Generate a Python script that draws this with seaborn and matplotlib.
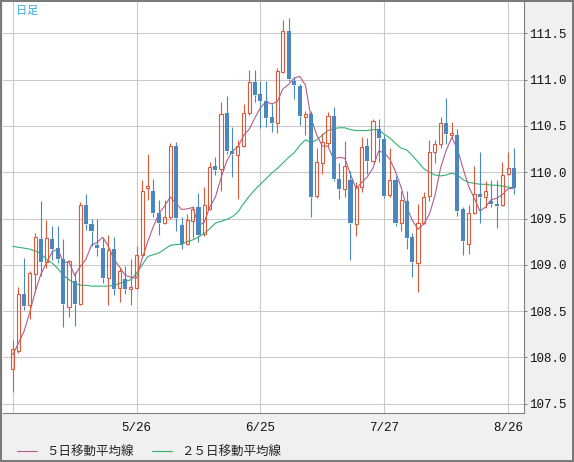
import numpy as np
import pandas as pd
import matplotlib
matplotlib.use("Agg")
import matplotlib.pyplot as plt
import seaborn as sns
from matplotlib.lines import Line2D
from matplotlib.patches import Rectangle

# ---- data (daily candles) ----
open_ = [107.88, 108.07, 108.68, 108.57, 108.90, 109.28, 109.03, 109.28, 109.18, 109.06,
         108.55, 108.83, 108.58, 109.65, 109.44, 109.21, 109.18, 108.86, 109.17, 108.75,
         108.85, 108.74, 108.75, 109.11, 109.83, 109.80, 109.56, 109.45, 109.52, 110.28,
         109.43, 109.23, 109.47, 109.62, 109.33, 109.60, 110.07, 110.04, 110.64, 110.23,
         110.19, 110.28, 110.64, 110.97, 110.84, 110.77, 110.60, 110.53, 111.08, 111.52,
         110.99, 110.93, 110.60, 110.63, 109.74, 110.10, 110.32, 110.61, 109.93, 109.82,
         109.92, 109.44, 109.84, 110.28, 110.12, 110.47, 110.36, 109.75, 109.92, 109.45,
         109.69, 109.30, 109.02, 109.45, 109.74, 110.22, 110.31, 110.53, 110.40, 110.40,
         109.60, 109.23, 109.56, 109.77, 109.73, 109.69, 109.66, 109.65, 109.98, 110.05]
high = [108.19, 108.76, 109.07, 108.93, 109.34, 109.69, 109.48, 109.42, 109.42, 109.28,
        109.05, 108.92, 109.68, 109.77, 109.50, 109.49, 109.29, 109.32, 109.30, 108.98,
        108.99, 109.06, 109.20, 109.92, 110.20, 109.93, 109.70, 109.70, 110.32, 110.33,
        109.52, 109.55, 109.63, 109.78, 109.84, 110.11, 110.16, 110.76, 110.82, 110.49,
        110.35, 110.74, 111.10, 111.10, 110.99, 110.99, 110.74, 111.13, 111.64, 111.67,
        111.03, 110.95, 110.66, 110.66, 110.26, 110.42, 110.65, 110.70, 110.10, 110.34,
        110.01, 109.89, 110.38, 110.37, 110.58, 110.58, 110.40, 110.26, 109.96, 109.80,
        109.80, 109.34, 109.66, 109.79, 110.35, 110.35, 110.60, 110.80, 110.54, 110.47,
        109.62, 109.65, 110.07, 110.22, 109.90, 109.92, 109.92, 110.11, 110.22, 110.26]
low = [107.63, 108.05, 108.51, 108.42, 108.71, 108.88, 108.97, 109.05, 109.02, 108.33,
       108.44, 108.34, 108.57, 109.38, 109.20, 109.10, 108.80, 108.57, 108.67, 108.60,
       108.68, 108.57, 108.74, 109.10, 109.70, 109.52, 109.32, 109.44, 109.50, 109.36,
       109.17, 109.21, 109.29, 109.25, 109.31, 109.59, 109.97, 109.80, 110.20, 109.95,
       109.71, 110.27, 110.62, 110.76, 110.48, 110.49, 110.43, 110.42, 111.07, 110.98,
       110.79, 110.51, 110.40, 109.52, 109.72, 109.98, 110.28, 109.90, 109.71, 109.73,
       109.05, 109.31, 109.79, 109.98, 110.11, 110.11, 109.72, 109.73, 109.42, 109.36,
       109.17, 108.87, 108.71, 109.44, 109.69, 110.10, 110.26, 110.30, 110.37, 109.53,
       109.11, 109.12, 109.55, 109.45, 109.61, 109.62, 109.40, 109.64, 109.97, 109.76]
close = [108.09, 108.69, 108.56, 108.91, 109.30, 109.03, 109.29, 109.17, 109.06, 108.58,
         109.04, 108.58, 109.65, 109.44, 109.36, 109.18, 108.86, 109.16, 108.74, 108.93,
         108.74, 108.76, 109.11, 109.80, 109.85, 109.56, 109.45, 109.52, 110.28, 109.51,
         109.23, 109.48, 109.60, 109.32, 109.65, 110.06, 110.02, 110.63, 110.23, 110.20,
         110.28, 110.64, 110.97, 110.83, 110.77, 110.59, 110.53, 111.09, 111.52, 111.01,
         110.94, 110.61, 110.63, 109.73, 110.11, 110.33, 110.61, 109.93, 109.82, 110.07,
         109.45, 109.84, 110.27, 110.12, 110.55, 110.37, 109.74, 109.92, 109.45, 109.70,
         109.29, 109.03, 109.45, 109.73, 110.22, 110.30, 110.53, 110.41, 110.42, 109.58,
         109.26, 109.56, 109.77, 109.73, 109.80, 109.66, 109.63, 109.97, 110.05, 109.83]
ma25 = [109.20, 109.19, 109.18, 109.17, 109.15, 109.12, 109.06, 109.02, 108.96, 108.89,
        108.84, 108.80, 108.78, 108.78, 108.77, 108.77, 108.77, 108.77, 108.78, 108.80,
        108.82, 108.84, 108.91, 109.00, 109.09, 109.11, 109.13, 109.17, 109.21, 109.22,
        109.22, 109.25, 109.27, 109.30, 109.34, 109.39, 109.45, 109.47, 109.49, 109.52,
        109.57, 109.66, 109.74, 109.81, 109.87, 109.93, 109.99, 110.04, 110.10, 110.16,
        110.21, 110.29, 110.35, 110.32, 110.35, 110.40, 110.45, 110.47, 110.48, 110.48,
        110.46, 110.45, 110.45, 110.45, 110.46, 110.46, 110.41, 110.37, 110.31, 110.26,
        110.24, 110.18, 110.11, 110.04, 110.00, 109.97, 109.96, 109.97, 109.99, 109.97,
        109.92, 109.89, 109.88, 109.87, 109.87, 109.86, 109.86, 109.85, 109.84, 109.83]
ma5_head = [108.03, 108.15, 108.28, 108.48]
date_ticks = [0, 22, 44, 66, 88]
date_labels = ["", "5/26", "6/25", "7/27", "8/26"]
price_ticks = [107.5, 108.0, 108.5, 109.0, 109.5, 110.0, 110.5, 111.0, 111.5]
legend_labels = ["５日移動平均線", "２５日移動平均線"]
title_text = "日足"

sns.set_theme(style="white")
plt.rcParams['font.family'] = ['Noto Sans CJK JP', 'DejaVu Sans']

df = pd.DataFrame({"i": np.arange(len(close)), "open": open_, "high": high,
                   "low": low, "close": close, "ma25": ma25})
df["ma5"] = df["close"].rolling(5).mean()
df.loc[:3, "ma5"] = ma5_head

RED = "#dc5a3c"
BLUE = "#4a87bf"
PINK = "#b45c8e"
GREEN = "#2fb46e"

W, H = 574, 462
fig = plt.figure(figsize=(W / 100, H / 100), dpi=100, facecolor="#f0f0f0")
ax = fig.add_axes([3 / W, 1 - 413 / H, (524 - 3) / W, (413 - 1) / H])
ax.set_facecolor("white")

# moving averages (behind candles)
sns.lineplot(data=df, x="i", y="ma25", ax=ax, color=GREEN, lw=0.8, legend=False, zorder=1)
sns.lineplot(data=df, x="i", y="ma5", ax=ax, color=PINK, lw=0.8, legend=False, zorder=1)

up = df["close"] >= df["open"]
colors = np.where(up, RED, BLUE)
body_lo = np.minimum(df["open"], df["close"])
body_hi = np.maximum(df["open"], df["close"])
ax.vlines(df["i"], df["low"], body_lo, colors=colors, lw=0.8, zorder=2)
ax.vlines(df["i"], body_hi, df["high"], colors=colors, lw=0.8, zorder=2)

du = df[up]
dd = df[~up]
ax.bar(du["i"], (du["close"] - du["open"]).clip(lower=0.008), bottom=du["open"], width=0.55,
       facecolor="none", edgecolor=RED, lw=0.8, zorder=3)
ax.bar(dd["i"], (dd["open"] - dd["close"]).clip(lower=0.01), bottom=dd["close"], width=0.72,
       color=BLUE, lw=0, zorder=3)

ax.set_xlim(-1.72, 90.82)
ax.set_ylim(107.40, 111.849)
ax.set_xticks(date_ticks)
ax.set_xticklabels(date_labels)
ax.set_yticks(price_ticks)
ax.set_yticklabels([f"{v:.1f}" for v in price_ticks])
ax.yaxis.tick_right()
ax.grid(True, color="#c9c9c9", lw=0.75, zorder=0)
ax.set_axisbelow(True)
ax.set_xlabel("")
ax.set_ylabel("")

for s in ["top", "left"]:
    ax.spines[s].set_visible(False)
for s in ["right", "bottom"]:
    ax.spines[s].set_color("#808080")
    ax.spines[s].set_linewidth(0.8)

ax.tick_params(axis="x", length=0, pad=6.5, labelsize=9, labelcolor="#111111")
ax.tick_params(axis="y", direction="out", length=2.2, width=0.7, color="#808080",
               pad=1.2, labelsize=9, labelcolor="#111111")
for lab in ax.get_xticklabels() + ax.get_yticklabels():
    lab.set_family(["Liberation Mono", "DejaVu Sans Mono"])

fig.text(16 / W, 1 - 10.5 / H, title_text, color="#3aa8e8", fontsize=8, va="center", ha="left")

handles = [Line2D([], [], color=PINK, lw=0.8), Line2D([], [], color=GREEN, lw=0.8)]
fig.legend(handles, legend_labels, loc="center left", bbox_to_anchor=(16.5 / W, 1 - 452 / H),
           ncol=2, frameon=False, fontsize=9, handlelength=1.6, handletextpad=0.75,
           columnspacing=1.5, borderpad=0, borderaxespad=0, labelcolor="#222222")

fig.patches.append(Rectangle((0, 0), 1, 1, transform=fig.transFigure, fill=False,
                             edgecolor="#7a7a7a", lw=2.9, zorder=10))

fig.savefig("out.png", dpi=100, facecolor=fig.get_facecolor())
